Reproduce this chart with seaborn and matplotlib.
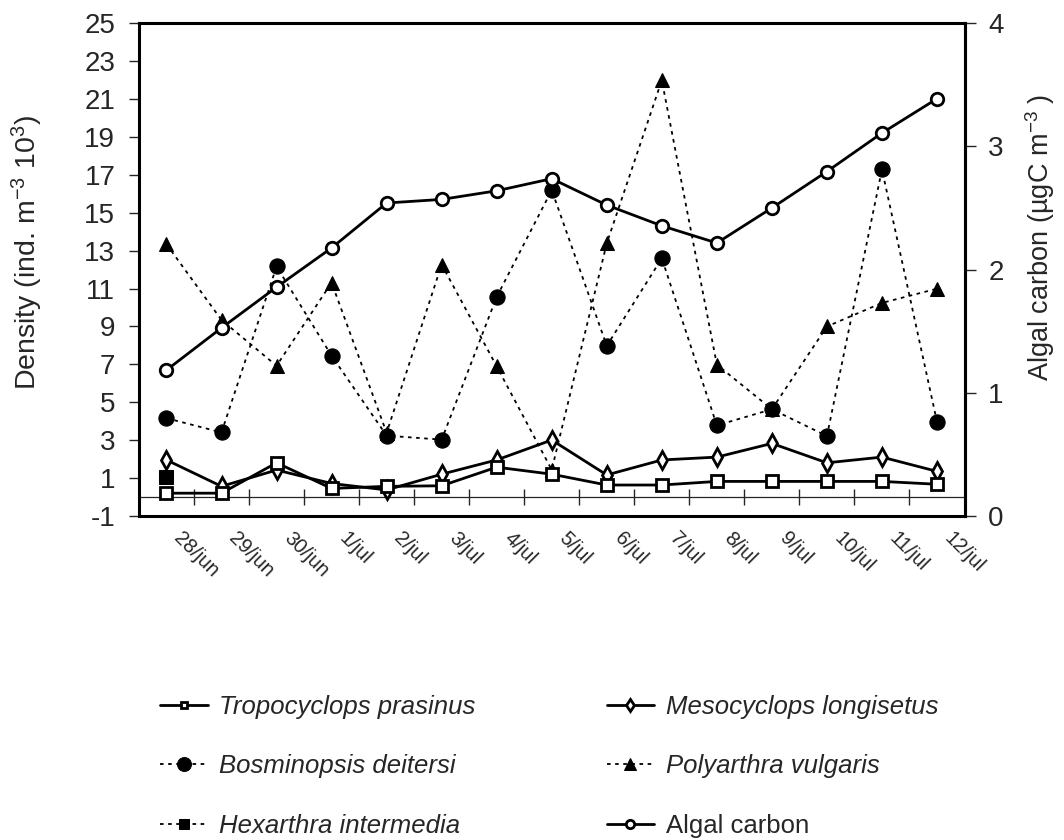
import numpy as np
import pandas as pd
import matplotlib
matplotlib.use("Agg")
import matplotlib.pyplot as plt
import seaborn as sns

# ---------------- data ----------------
sample_dates = pd.date_range("2000-06-27 12:00", periods=15, freq="D")
tick_dates = pd.date_range("2000-06-27", periods=16, freq="D")
tick_labels = ["28/jun", "29/jun", "30/jun", "1/jul", "2/jul", "3/jul", "4/jul",
               "5/jul", "6/jul", "7/jul", "8/jul", "9/jul", "10/jul", "11/jul", "12/jul"]

tropocyclops = [0.22, 0.22, 1.82, 0.47, 0.58, 0.61, 1.59, 1.22, 0.65, 0.65, 0.84, 0.84, 0.84, 0.84, 0.69]
mesocyclops = [1.97, 0.58, 1.44, 0.73, 0.39, 1.22, 1.97, 3.02, 1.18, 1.97, 2.12, 2.84, 1.82, 2.12, 1.37]
bosminopsis = [4.17, 3.42, 12.16, 7.46, 3.25, 3.04, 10.56, 16.18, 7.98, 12.59, 3.79, 4.64, 3.23, 17.27, 3.98]
polyarthra = [13.33, 9.34, 6.93, 11.31, 3.40, 12.26, 6.90, 1.45, 13.38, 21.97, 6.99, 4.64, 9.00, 10.24, 10.99]
hexarthra = [1.06] + [np.nan] * 14
algal_carbon = [1.185, 1.527, 1.857, 2.175, 2.539, 2.568, 2.638, 2.736, 2.522, 2.354, 2.215, 2.499, 2.794, 3.106, 3.384]

density_ticks = list(range(-1, 26, 2))
carbon_ticks = [0, 1, 2, 3, 4]

# ---------------- style ----------------
sns.set_style("ticks")
plt.rcParams["font.family"] = ["Liberation Sans", "DejaVu Sans"]
plt.rcParams["mathtext.fontset"] = "custom"
plt.rcParams["mathtext.rm"] = "Liberation Sans"
plt.rcParams["mathtext.it"] = "Liberation Sans:italic"
plt.rcParams["axes.unicode_minus"] = False

fig = plt.figure(figsize=(10.64, 8.4), dpi=100)
ax = fig.add_axes([0.1306, 0.3853, 0.7759, 0.5877])
ax2 = ax.twinx()

solid = dict(color="black", lw=2.0, mec="black", mew=2.0)
dotted = dict(color="black", lw=1.3, linestyle=(0, (2, 2.5)), mec="black")

sns.lineplot(x=sample_dates, y=tropocyclops, ax=ax, marker="s", ms=8, mfc="white",
             label="Tropocyclops prasinus", **solid, zorder=5)
sns.lineplot(x=sample_dates, y=mesocyclops, ax=ax, marker="d", ms=9, mfc="white",
             label="Mesocyclops longisetus", **solid, zorder=4)
sns.lineplot(x=sample_dates, y=bosminopsis, ax=ax, marker="o", ms=11, mfc="black",
             label="Bosminopsis deitersi", **dotted, zorder=3)
sns.lineplot(x=sample_dates, y=polyarthra, ax=ax, marker="^", ms=10, mfc="black",
             label="Polyarthra vulgaris", **dotted, zorder=3)
hmask = ~np.isnan(np.array(hexarthra))
sns.lineplot(x=sample_dates[hmask], y=np.array(hexarthra)[hmask], ax=ax, marker="s", ms=9.5,
             mfc="black", label="Hexarthra intermedia", **dotted, zorder=3)
sns.lineplot(x=sample_dates, y=algal_carbon, ax=ax2, marker="o", ms=9, mfc="white",
             label="Algal carbon", **solid, zorder=5)

h1, l1 = ax.get_legend_handles_labels()
h2, l2 = ax2.get_legend_handles_labels()
for a in (ax, ax2):
    if a.get_legend() is not None:
        a.get_legend().remove()

# ---------------- axes ----------------
# label anchors sit slightly left of the tick marks (as in the original)
ax.set_xticks(tick_dates[1:] - pd.Timedelta(hours=4.5))
ax.set_xticklabels(tick_labels)
ax.set_xlim(tick_dates[0], tick_dates[-1])
ax.set_ylim(-1, 25)
ax2.set_ylim(0, 4)
ax.set_yticks(density_ticks)
ax2.set_yticks(carbon_ticks)
ax.tick_params(axis="x", length=0, pad=9, labelsize=14.5)
for lbl in ax.get_xticklabels():
    lbl.set_rotation(-45)
    lbl.set_ha("left")
    lbl.set_va("top")
    lbl.set_rotation_mode("anchor")
ax.tick_params(axis="y", direction="out", length=7, width=1, pad=10, labelsize=20)
ax2.tick_params(axis="y", direction="out", length=8, width=1, pad=9, labelsize=20)
ax.set_xlabel("")
ax.set_ylabel("")
ax2.set_ylabel("")

for s in ax.spines.values():
    s.set_visible(True)
    s.set_linewidth(2.2)
    s.set_color("black")
for name, s in ax2.spines.items():
    if name == "right":
        s.set_linewidth(2.2)
        s.set_color("black")
    else:
        s.set_visible(False)

# category axis crossing at density = 0
sec = ax.secondary_xaxis((0 - (-1)) / 26)
sec.spines["bottom"].set_linewidth(0.9)
sec.set_xticks(tick_dates)
sec.set_xticklabels([])
sec.tick_params(direction="inout", length=12, width=1)
ax.set_xlim(tick_dates[0], tick_dates[-1])

fig.text(27 / 1064, 1 - 252 / 840, "Density (ind. m$^{-3}$ 10$^{3}$)", rotation=90,
         ha="center", va="center", fontsize=20.5)
fig.text(1040 / 1064, 1 - 237 / 840, "Algal carbon (µgC m$^{-3}$ )", rotation=90,
         ha="center", va="center", fontsize=19.5)

# ---------------- legend ----------------
handles = h1 + h2
labels = l1 + l2
order = [0, 2, 4, 1, 3, 5]
leg = fig.legend([handles[i] for i in order], [labels[i] for i in order], ncol=2,
                 loc="upper left", bbox_to_anchor=(160 / 1064, 1 - 695 / 840),
                 frameon=False, fontsize=18.5, handlelength=1.85, handletextpad=0.45,
                 columnspacing=5.1, labelspacing=1.38, borderpad=0, borderaxespad=0)
leg_ms = [5, 10, 7, 6, 8, 6]
for hnd, ms in zip(leg.legend_handles, leg_ms):
    hnd.set_markersize(ms)
for txt, lab in zip(leg.get_texts(), [labels[i] for i in order]):
    if lab != "Algal carbon":
        txt.set_fontstyle("italic")

fig.savefig("out.png", dpi=100)
